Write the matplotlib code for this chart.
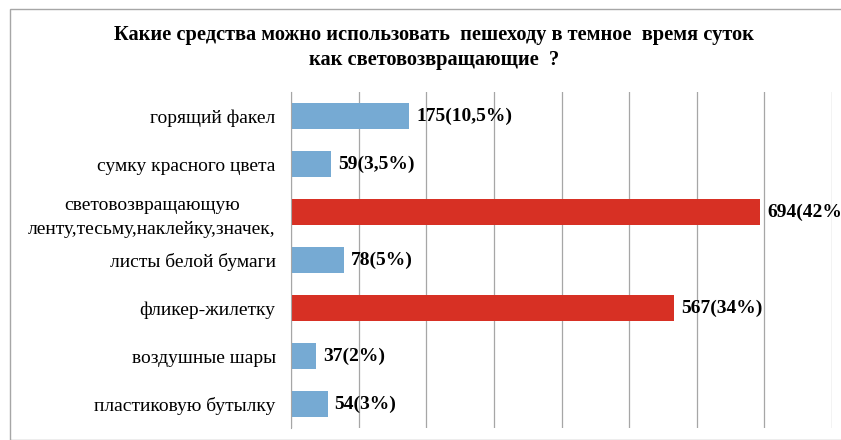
import matplotlib
matplotlib.use("Agg")
import matplotlib.pyplot as plt
from matplotlib.patches import Rectangle

categories = [
    "горящий факел",
    "сумку красного цвета",
    "световозвращающую\nленту,тесьму,наклейку,значек,",
    "листы белой бумаги",
    "фликер-жилетку",
    "воздушные шары",
    "пластиковую бутылку",
]
values = [175, 59, 694, 78, 567, 37, 54]
labels = ["175(10,5%)", "59(3,5%)", "694(42%)", "78(5%)", "567(34%)", "37(2%)", "54(3%)"]
highlight = [False, False, True, False, True, False, False]
title = "Какие средства можно использовать  пешеходу в темное  время суток\nкак световозвращающие  ?"

BLUE = "#76aad3"
RED = "#d73024"
FAM = ["Liberation Serif", "DejaVu Serif"]

plt.rcParams["font.family"] = FAM

fig = plt.figure(figsize=(8.41, 4.40), dpi=100)
ax = fig.add_axes([291/841, 1-428/440, (832-291)/841, (428-92)/440])

y = list(range(len(categories)))
colors = [RED if h else BLUE for h in highlight]
ax.barh(y, values, height=0.56, color=colors, zorder=3)
ax.set_ylim(len(categories)-0.5, -0.5)
ax.set_xlim(0, 800)
ax.set_xticks(range(0, 801, 100))
ax.set_xticklabels([])
ax.tick_params(axis="x", length=0)
ax.tick_params(axis="y", length=0, pad=11)
ax.set_yticks(y)
ax.set_yticklabels(categories, multialignment="center", linespacing=1.5,
                   family=FAM, fontsize=14)
ax.grid(axis="x", color="#a6a6a6", linewidth=0.9, zorder=0)
for s in ["top", "right", "bottom"]:
    ax.spines[s].set_visible(False)
ax.spines["left"].set_color("#a6a6a6")
ax.spines["left"].set_zorder(4)

for yi, v, lab in zip(y, values, labels):
    ax.annotate(lab, (v, yi), xytext=(5, 0), textcoords="offset points",
                va="center", ha="left", fontsize=14, fontweight="bold",
                family=FAM, annotation_clip=False, zorder=5)

fig.text(434/841, 1-47.5/440, title, ha="center", va="center", fontsize=14.7,
         fontweight="bold", linespacing=1.3, family=FAM)

fig.patches.append(Rectangle((10/841, 0), 1, 1-9/440, transform=fig.transFigure,
                             fill=False, edgecolor="#a6a6a6", linewidth=1.0))

fig.savefig("out.png", dpi=100)
